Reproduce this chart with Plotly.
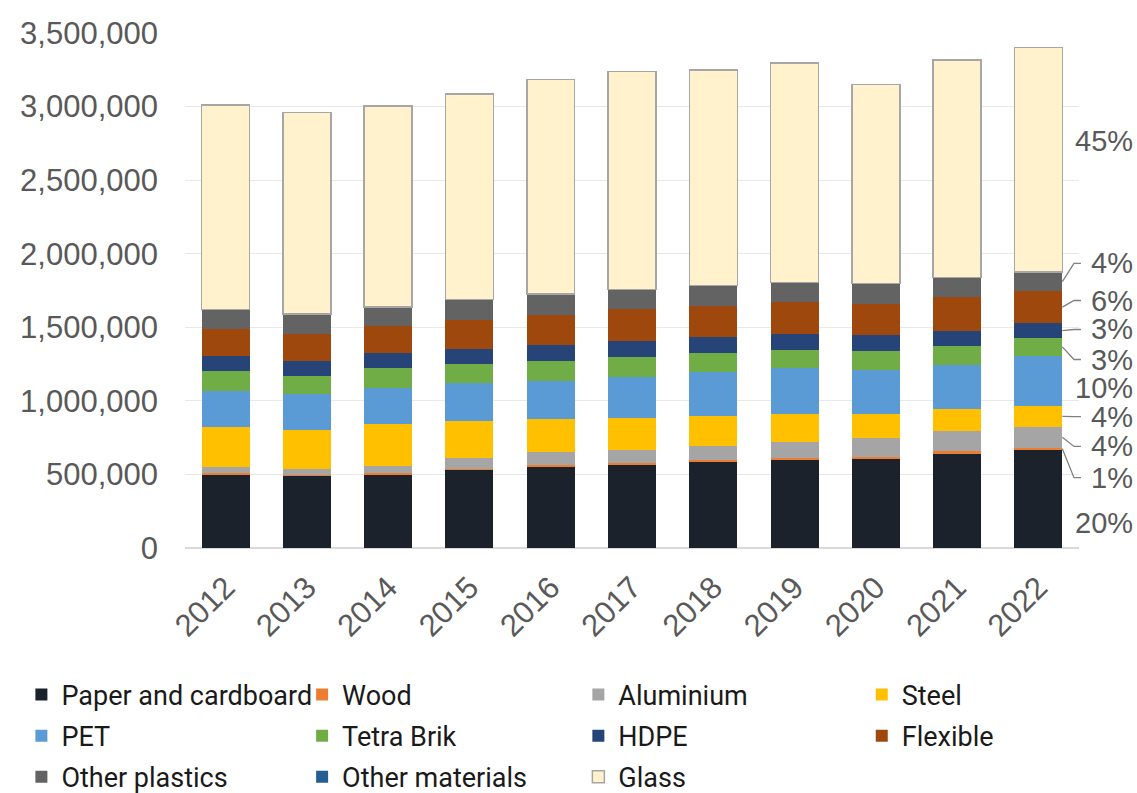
import plotly.graph_objects as go

# Packaging placed on the market, tonnes per year
years = ["2012", "2013", "2014", "2015", "2016", "2017", "2018", "2019", "2020", "2021", "2022"]

paper_cardboard = [497000, 490000, 501000, 531000, 553000, 565000, 587000, 603000, 610000, 644000, 665000]
wood = [10000, 8000, 8000, 7000, 11000, 11000, 11000, 9000, 11000, 13000, 18000]
aluminium = [42000, 39000, 51000, 72000, 91000, 91000, 98000, 109000, 125000, 137000, 140000]
steel = [272000, 268000, 284000, 256000, 220000, 215000, 204000, 191000, 166000, 149000, 144000]
pet = [245000, 241000, 242000, 254000, 261000, 283000, 293000, 310000, 299000, 302000, 341000]
tetra_brik = [138000, 126000, 136000, 132000, 136000, 130000, 131000, 127000, 129000, 129000, 118000]
hdpe = [102000, 102000, 102000, 102000, 109000, 109000, 107000, 105000, 105000, 102000, 102000]
flexible = [182000, 182000, 186000, 197000, 204000, 220000, 215000, 215000, 215000, 229000, 218000]
other_plastics = [131000, 134000, 127000, 136000, 141000, 131000, 136000, 136000, 136000, 134000, 128000]
other_materials = [1000, 1000, 1000, 1000, 1000, 1000, 1000, 1000, 1000, 1000, 1000]
glass = [1390000, 1369000, 1367000, 1397000, 1458000, 1484000, 1467000, 1489000, 1353000, 1475000, 1525000]

# (name, values, colour, legend column)
series = [
    ("Paper and cardboard", paper_cardboard, "#1C222B", "legend"),
    ("Wood", wood, "#ED7D31", "legend2"),
    ("Aluminium", aluminium, "#A5A5A5", "legend3"),
    ("Steel", steel, "#FFC000", "legend4"),
    ("PET", pet, "#5B9BD5", "legend"),
    ("Tetra Brik", tetra_brik, "#70AD47", "legend2"),
    ("HDPE", hdpe, "#264478", "legend3"),
    ("Flexible", flexible, "#9E480E", "legend4"),
    ("Other plastics", other_plastics, "#636363", "legend"),
    ("Other materials", other_materials, "#255E91", "legend2"),
    ("Glass", glass, "#FFF2CC", "legend3"),
]

# Share labels beside the last bar: label height (axis units) and leader line flag
share_label_y = {
    "Paper and cardboard": (172000, False),
    "Wood": (478000, True),
    "Aluminium": (690000, True),
    "Steel": (893000, True),
    "PET": (1090000, False),
    "Tetra Brik": (1281000, True),
    "HDPE": (1485000, True),
    "Flexible": (1682000, True),
    "Other plastics": (1934000, True),
    "Glass": (2764000, False),
}

Y_MAX = 3500000
BAR_GAP = 0.41
TICK_FONT = dict(family="Liberation Sans, Arial, sans-serif", size=31, color="#595959")
LEGEND_FONT = dict(family="Roboto, Liberation Sans, sans-serif", size=27, color="#1A1A1A")

fig = go.Figure()
for name, vals, colour, leg in series:
    line = dict(color="#A6A6A6", width=1.5) if name == "Glass" else dict(width=0)
    fig.add_trace(go.Bar(
        x=years, y=vals, name=name, legend=leg, legendgroup=name,
        marker=dict(color=colour, line=line),
    ))

# Percentage shares of the final year, with leader lines back to each segment
last = len(years) - 1
total_last = sum(vals[last] for _, vals, _, _ in series)
bar_edge = (last + 0.5 + (1 - BAR_GAP) / 2) / len(years)
elbow_x = 0.9944
end_x = 1.0022
base = 0
annotations = []
shapes = []
for name, vals, colour, leg in series:
    v = vals[last]
    mid = base + v / 2
    base += v
    if name not in share_label_y:
        continue
    ly, leader = share_label_y[name]
    pct = round(v / total_last * 100)
    annotations.append(dict(
        x=1.0626, xref="paper", xanchor="right", y=ly, yref="y", yanchor="middle",
        text=f"{pct}%", showarrow=False,
        font=dict(family="Liberation Sans, Arial, sans-serif", size=29, color="#595959"),
    ))
    if leader:
        shapes.append(dict(
            type="path", xref="paper", yref="y",
            path=f"M {bar_edge},{mid} L {elbow_x},{ly} L {end_x},{ly}",
            line=dict(color="#808080", width=1.3),
        ))

legend_common = dict(
    orientation="v", traceorder="grouped", tracegroupgap=3,
    font=LEGEND_FONT, bgcolor="rgba(0,0,0,0)", yanchor="top", y=-0.238, xanchor="left",
)

fig.update_layout(
    width=1137, height=793,
    barmode="stack", bargap=BAR_GAP,
    plot_bgcolor="white", paper_bgcolor="white",
    margin=dict(l=185, r=58, t=33, b=245, autoexpand=False),
    showlegend=True,
    legend=dict(legend_common, x=-0.183),
    legend2=dict(legend_common, x=0.131),
    legend3=dict(legend_common, x=0.440),
    legend4=dict(legend_common, x=0.757),
    annotations=annotations,
    shapes=shapes,
    xaxis=dict(
        range=[-0.5, len(years) - 0.5], tickangle=-45, tickfont=TICK_FONT,
        showgrid=False, showline=False, ticks="", ticklabelstandoff=14,
    ),
    yaxis=dict(
        range=[0, Y_MAX], dtick=500000, tickformat=",d", tickfont=TICK_FONT,
        showgrid=True, gridcolor="#E8E8E8", gridwidth=1,
        zeroline=True, zerolinecolor="#D9D9D9", zerolinewidth=1.5,
        showline=False, ticks="", ticklabelstandoff=26,
    ),
)

fig.write_html("out.html")
